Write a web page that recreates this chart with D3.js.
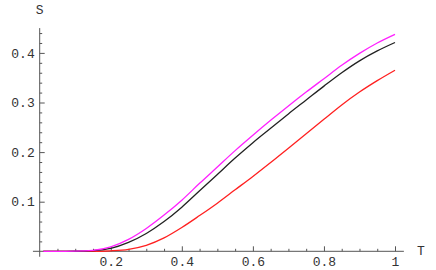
<!DOCTYPE html>
<html>
<head>
<meta charset="utf-8">
<script src="https://cdn.jsdelivr.net/npm/d3@7"></script>
<style>
  body { margin: 0; background: #fff; }
  text { font-family: "Liberation Mono", "DejaVu Sans Mono", monospace; }
</style>
</head>
<body>
<div id="chart"></div>
<script>
// values
var tVals = [0.01, 0.05, 0.1, 0.15, 0.2, 0.25, 0.3, 0.35, 0.4, 0.45, 0.5,
             0.55, 0.6, 0.65, 0.7, 0.75, 0.8, 0.85, 0.9, 0.95, 1];
var sMagenta = [0, 0, 0.0002, 0.002, 0.009, 0.024, 0.046, 0.073, 0.103, 0.137, 0.170,
                0.203, 0.234, 0.264, 0.293, 0.321, 0.348, 0.375, 0.399, 0.420, 0.4375];
var sBlack = [0, 0, 0.0001, 0.0015, 0.006, 0.018, 0.036, 0.060, 0.089, 0.122, 0.155,
              0.188, 0.219, 0.248, 0.277, 0.305, 0.333, 0.360, 0.384, 0.404, 0.421];
var sRed = [0, 0, 0, 0, 0.001, 0.004, 0.012, 0.027, 0.048, 0.072, 0.097,
            0.124, 0.151, 0.179, 0.208, 0.237, 0.266, 0.295, 0.321, 0.344, 0.365];
var xTicks = [0.2, 0.4, 0.6, 0.8, 1];
var xTickLabels = ["0.2", "0.4", "0.6", "0.8", "1"];
var yTicks = [0.1, 0.2, 0.3, 0.4];
var yTickLabels = ["0.1", "0.2", "0.3", "0.4"];

var width = 436, height = 270;

var svg = d3.select("#chart")
    .append("svg")
    .attr("width", width)
    .attr("height", height);

var x = d3.scaleLinear().domain([0, 1]).range([39.7, 395]);
var y = d3.scaleLinear().domain([0, 0.1]).range([251.3, 201.7]);

var axisColor = "#555";

// minor ticks
var xMinor = d3.range(0.05, 1.001, 0.05).filter(function (d) { return Math.abs(d * 5 - Math.round(d * 5)) > 1e-6 });
var yMinor = d3.range(0.02, 0.45, 0.02).filter(function (d) { return Math.abs(d * 10 - Math.round(d * 10)) > 1e-6 });

svg.append("g")
    .attr("transform", "translate(0," + y(0) + ")")
    .call(d3.axisBottom(x).tickValues(xMinor).tickSize(-2.5).tickFormat(""))
    .call(function (g) { g.select(".domain").remove() });

svg.append("g")
    .attr("transform", "translate(" + x(0) + ",0)")
    .call(d3.axisLeft(y).tickValues(yMinor).tickSize(-2.5).tickFormat(""))
    .call(function (g) { g.select(".domain").remove() });

// major ticks + labels
svg.append("g")
    .attr("transform", "translate(0," + y(0) + ")")
    .call(d3.axisBottom(x).tickValues(xTicks).tickSize(-5).tickPadding(5)
        .tickFormat(function (d, i) { return xTickLabels[i] }))
    .call(function (g) { g.select(".domain").remove() });

svg.append("g")
    .attr("transform", "translate(" + x(0) + ",0)")
    .call(d3.axisLeft(y).tickValues(yTicks).tickSize(-5).tickPadding(5)
        .tickFormat(function (d, i) { return yTickLabels[i] }))
    .call(function (g) { g.select(".domain").remove() });

svg.selectAll(".tick line").attr("stroke", axisColor);
svg.selectAll(".tick text")
    .attr("font-family", "Liberation Mono")
    .attr("font-size", "13px")
    .attr("fill", "#333");

// axis lines
svg.append("line")
    .attr("x1", x(-0.019)).attr("x2", x(1.025))
    .attr("y1", y(0)).attr("y2", y(0))
    .attr("stroke", axisColor);
svg.append("line")
    .attr("x1", x(0)).attr("x2", x(0))
    .attr("y1", y(-0.011)).attr("y2", y(0.45))
    .attr("stroke", axisColor);

// axis titles
svg.append("text")
    .attr("x", x(0)).attr("y", 14)
    .attr("text-anchor", "middle")
    .attr("font-size", "13px")
    .attr("fill", "#333")
    .text("S");
svg.append("text")
    .attr("x", 421).attr("y", y(0) + 4)
    .attr("text-anchor", "middle")
    .attr("font-size", "13px")
    .attr("fill", "#333")
    .text("T");

// curves
var line = d3.line()
    .x(function (d) { return x(d[0]) })
    .y(function (d) { return y(d[1]) })
    .curve(d3.curveMonotoneX);

var series = [
    { vals: sRed, color: "#ff2020" },
    { vals: sBlack, color: "#222" },
    { vals: sMagenta, color: "#ff20ff" }
];

series.forEach(function (s) {
    svg.append("path")
        .datum(tVals.map(function (t, i) { return [t, s.vals[i]] }))
        .attr("fill", "none")
        .attr("stroke", s.color)
        .attr("stroke-width", 1.3)
        .attr("d", line);
});
</script>
</body>
</html>
